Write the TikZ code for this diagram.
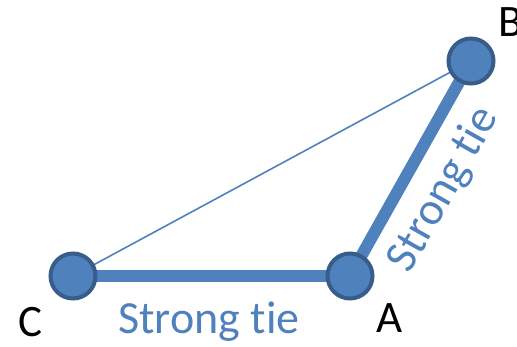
\documentclass[tikz,border=0pt]{standalone}
\usepackage{fontspec}
\setmainfont[Ligatures=NoCommon]{Carlito}
\definecolor{nodefill}{HTML}{4F81BD}
\definecolor{nodeborder}{HTML}{385D8A}
\definecolor{tiecol}{HTML}{4F81BD}
\begin{document}
\begin{tikzpicture}[x=1pt,y=-1pt,
  vert/.style={circle,fill=nodefill,draw=nodeborder,line width=4pt,minimum size=45pt,inner sep=0pt},
  strongedge/.style={draw=tiecol,line width=12pt},
  weakedge/.style={draw=tiecol,line width=1.6pt},
  lab/.style={font=\fontsize{45}{45}\selectfont,text=black,inner sep=0pt},
  tielab/.style={font=\fontsize{46}{46}\selectfont,text=tiecol,inner sep=0pt}]
\useasboundingbox (0,0) rectangle (517,346);
\coordinate (pc) at (73,276);
\coordinate (pa) at (350,276);
\coordinate (pb) at (471,61);
\draw[weakedge] (pc) -- (pb);
\draw[strongedge] (pc) -- (pa);
\draw[strongedge] (pa) -- (pb);
\node[vert] (C) at (pc) {};
\node[vert] (A) at (pa) {};
\node[vert] (B) at (pb) {};
\node[lab] (lB) at (511,22) {B};
\node[lab] (lC) at (30,322) {C};
\node[lab] (lA) at (390,318) {A};
\node[tielab] (t1) at (209,322) {Strong tie};
\node[tielab,rotate=60.6] (t2) at (444,190) {Strong tie};
\end{tikzpicture}
\end{document}
